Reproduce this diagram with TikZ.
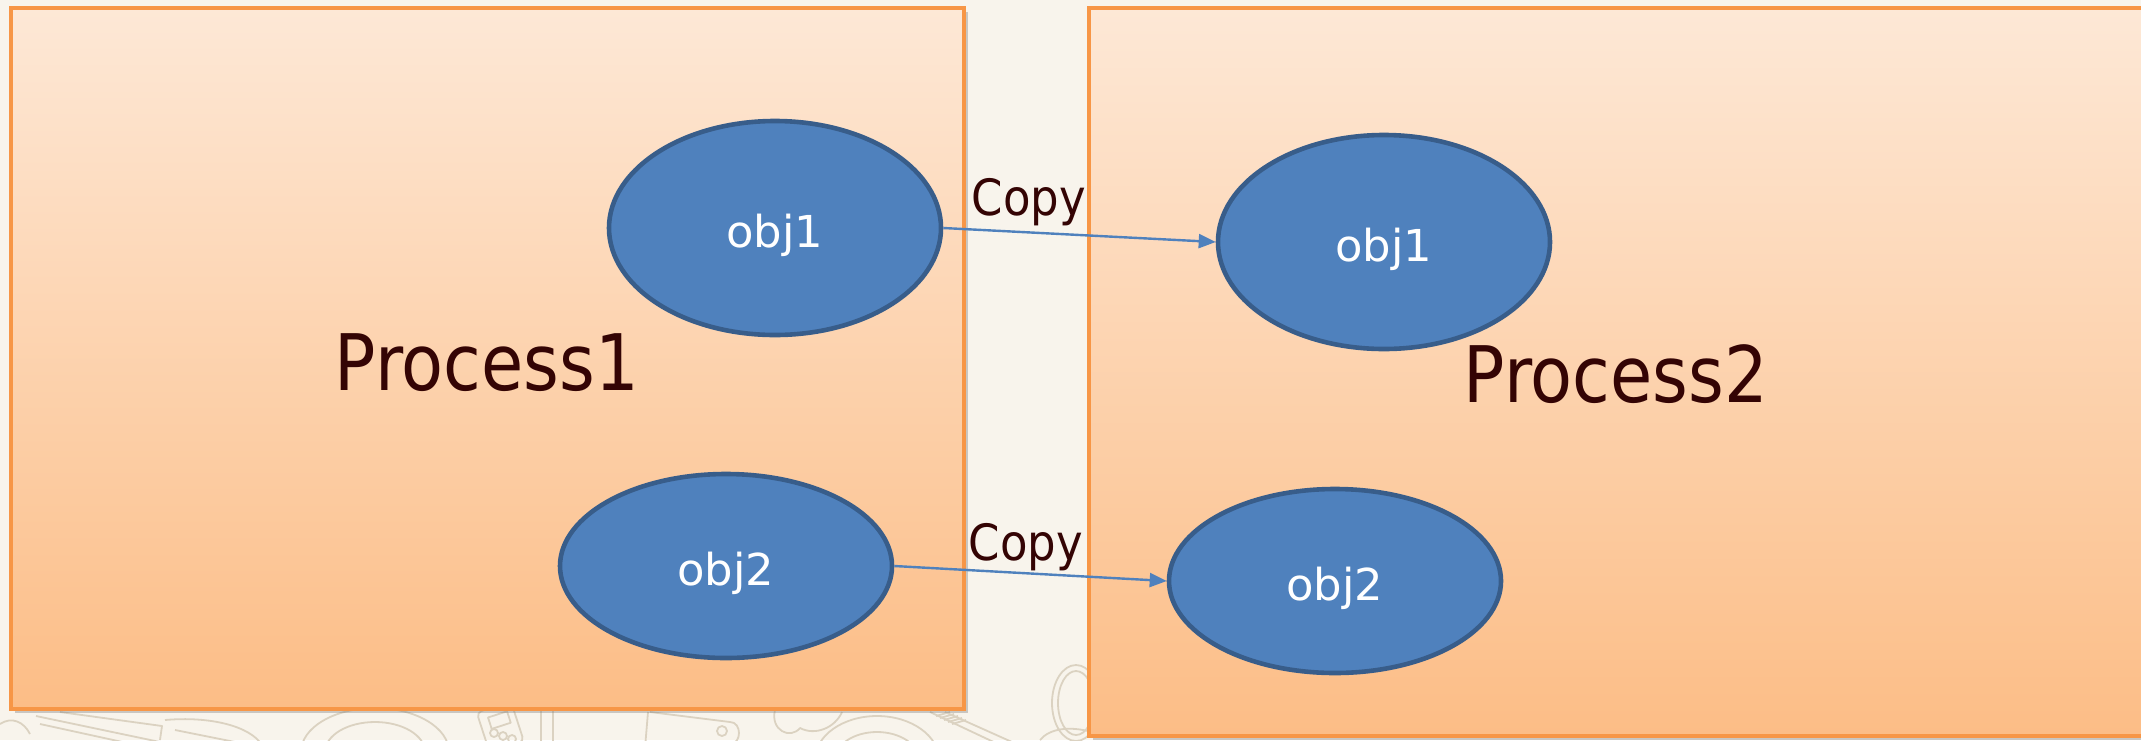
\documentclass[tikz,border=0pt]{standalone}
\usepackage{fontspec}
\setmainfont{DejaVu Sans}
\usetikzlibrary{arrows.meta,shapes.geometric,shadows}

\definecolor{bgcream}{RGB}{248,244,236}
\definecolor{doodle}{RGB}{219,210,193}
\definecolor{peachtop}{RGB}{253,232,214}
\definecolor{peachbot}{RGB}{252,189,134}
\definecolor{boxline}{RGB}{247,150,70}
\definecolor{objfill}{RGB}{79,129,189}
\definecolor{objline}{RGB}{56,93,138}
\definecolor{txtbrown}{RGB}{52,4,4}

% horizontally adjusted labels
\newcommand{\objlbl}[1]{\scalebox{1.02}[1]{#1}}
\newcommand{\narrowlbl}[1]{\scalebox{0.88}[1]{#1}}
\newcommand{\copylbl}[1]{\scalebox{0.9}[1]{#1}}

\tikzset{
  doodleline/.style={draw=doodle, line width=1.8pt, line join=round},
  procbox/.style={rectangle, draw=boxline, line width=3.2pt,
    top color=peachtop, bottom color=peachbot,
    drop shadow={shadow xshift=4pt, shadow yshift=-4pt, opacity=0.35, fill=black!55}},
  procname/.style={anchor=base, text=txtbrown, font=\fontsize{78}{88}\selectfont, inner sep=0pt},
  objnode/.style={ellipse, draw=objline, line width=4.6pt, fill=objfill,
    text=white, font=\fontsize{44}{52}\selectfont,
    minimum width=332pt, text height=38pt, text depth=0pt, inner sep=0pt},
  copyname/.style={anchor=base, text=txtbrown, font=\fontsize{50}{60}\selectfont, inner sep=0pt},
  copyarrow/.style={draw=objfill, line width=2.4pt,
    -{Triangle[length=17pt,width=14pt]}}
}

\begin{document}
\begin{tikzpicture}[x=1pt,y=-1pt]
  % page and background
  \useasboundingbox (0,0) rectangle (2141,740);
  \clip (0,0) rectangle (2141,740);
  \fill[bgcream] (0,0) rectangle (2141,740);

  % faint line-art pattern of the backdrop
  \begin{scope}[doodleline]
    \draw (0,724) .. controls (12,716) and (24,722) .. (30,734);
    \draw (36,716) -- (160,742);
    \draw (40,724) -- (150,748);
    \draw (60,712) -- (162,726) -- (160,740);
    \draw (165,720) .. controls (210,716) and (250,726) .. (262,745);
    \draw (175,730) -- (255,746);
    \draw (375,752) ellipse (74 and 44);
    \draw (375,752) ellipse (50 and 30);
    \draw[rounded corners=5, rotate around={18:(500,726)}] (482,706) rectangle (518,748);
    \draw[rotate around={18:(500,722)}] (490,714) rectangle (510,726);
    \draw (494,733) circle (4); \draw (503,736) circle (4); \draw (512,739) circle (4);
    \draw (541,706) -- (541,748); \draw (553,706) -- (553,748);
    \draw (648,712) -- (645,748);
    \draw (650,712) -- (730,722) .. controls (742,722) and (742,744) .. (730,744) -- (658,742);
    \draw (722,731) circle (5);
    \draw (775,710) .. controls (770,730) and (790,740) .. (800,728)
          .. controls (815,736) and (835,728) .. (842,712);
    \draw (877,760) ellipse (62 and 44);
    \draw (877,760) ellipse (42 and 28);
    \draw (930,712) -- (1000,745); \draw (945,712) -- (1012,742);
    \foreach \k in {0,...,4} \draw (936+4*\k,716+2*\k) -- (950+4*\k,712+2*\k);
    \draw (1076,703) ellipse (18 and 32);
    \draw (1076,703) ellipse (24 and 38);
    \draw (1040,740) .. controls (1050,728) and (1070,726) .. (1092,732);
  \end{scope}

  % the two process boxes
  \node[procbox, minimum width=953pt, minimum height=701pt] (p1box) at (487.5,358.5) {};
  \node[procbox, minimum width=1061pt, minimum height=728pt] (p2box) at (1619.5,372) {};

  \node[procname] (p1name) at (487,390) {\narrowlbl{Process1}};
  \node[procname] (p2name) at (1616,402) {\narrowlbl{Process2}};

  % objects in each process
  \node[objnode, minimum height=214pt] (a1) at (775,228) {\objlbl{obj1}};
  \node[objnode, minimum height=184pt] (a2) at (726,566) {\objlbl{obj2}};
  \node[objnode, minimum height=214pt] (b1) at (1384,242) {\objlbl{obj1}};
  \node[objnode, minimum height=184pt] (b2) at (1335,581) {\objlbl{obj2}};

  % copy connectors
  \draw[copyarrow] (a1.east) -- (b1.west);
  \draw[copyarrow] (a2.east) -- (b2.west);

  \node[copyname] (c1) at (1029,215) {\copylbl{Copy}};
  \node[copyname] (c2) at (1026,560) {\copylbl{Copy}};
\end{tikzpicture}
\end{document}
